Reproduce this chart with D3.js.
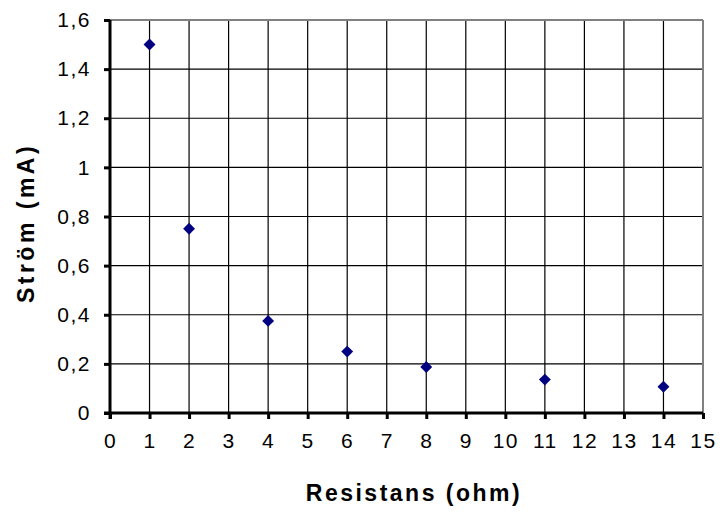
<!DOCTYPE html>
<html>
<head>
<meta charset="utf-8">
<script src="https://cdn.jsdelivr.net/npm/d3@7"></script>
<style>
  html, body { margin: 0; padding: 0; background: #fff; }
  svg { display: block; font-family: "Liberation Sans", Arial, sans-serif; }
</style>
</head>
<body>
<svg id="chart" width="720" height="513"></svg>
<script>
// Measured current versus resistance
const resistance = [1, 2, 4, 6, 8, 11, 14];
const current = [1.5, 0.75, 0.375, 0.25, 0.1875, 0.136, 0.107];
const xTicks = d3.range(0, 16, 1);
const yTicks = [0, 0.2, 0.4, 0.6, 0.8, 1, 1.2, 1.4, 1.6];
const xTitle = "Resistans (ohm)";
const yTitle = "Ström (mA)";

const svg = d3.select("#chart");
const plot = { left: 110, right: 703, top: 20, bottom: 413 };

const x = d3.scaleLinear().domain([0, 15]).range([plot.left, plot.right]);
const y = d3.scaleLinear().domain([0, 1.6]).range([plot.bottom, plot.top]);

const fmt = d => String(+d.toFixed(1)).replace(".", ",");

// Grid lines
const grid = svg.append("g");
grid.selectAll("line.v").data(xTicks.filter(d => d > 0 && d < 15)).join("line")
  .attr("class", "v")
  .attr("x1", d => x(d)).attr("x2", d => x(d))
  .attr("y1", plot.top).attr("y2", plot.bottom)
  .attr("stroke", "#000").attr("stroke-width", 1.2);
grid.selectAll("line.h").data(yTicks.filter(d => d > 0 && d < 1.6)).join("line")
  .attr("class", "h")
  .attr("x1", plot.left).attr("x2", plot.right)
  .attr("y1", d => y(d)).attr("y2", d => y(d))
  .attr("stroke", "#000").attr("stroke-width", 1.2);

// Plot frame: top and right in gray
svg.append("line").attr("x1", plot.left).attr("x2", plot.right).attr("y1", plot.top).attr("y2", plot.top)
  .attr("stroke", "#808080").attr("stroke-width", 2);
svg.append("line").attr("x1", plot.right).attr("x2", plot.right).attr("y1", plot.top).attr("y2", plot.bottom)
  .attr("stroke", "#808080").attr("stroke-width", 2);

// Axes
const xAxis = d3.axisBottom(x).tickValues(xTicks).tickSize(6).tickPadding(14).tickFormat(d => d);
const yAxis = d3.axisLeft(y).tickValues(yTicks).tickSize(6).tickPadding(13).tickFormat(fmt);

const gx = svg.append("g").attr("transform", `translate(0,${plot.bottom})`).call(xAxis);
const gy = svg.append("g").attr("transform", `translate(${plot.left},0)`).call(yAxis);

[gx, gy].forEach(g => {
  g.attr("font-size", 21).attr("font-family", "Liberation Sans, Arial, sans-serif");
  g.select(".domain").attr("stroke", "#000").attr("stroke-width", 3);
  g.selectAll(".tick line").attr("stroke", "#000").attr("stroke-width", 3);
  g.selectAll(".tick text").attr("fill", "#000")
    .attr("font-size", 21)
    .attr("letter-spacing", 1.5);
});
gx.select(".domain").attr("d", `M${plot.left - 6},0H${plot.right}`);
gy.select(".domain").attr("d", `M0,${plot.top}V${plot.bottom + 6}`);

// Data markers (diamonds)
const diamond = d3.symbol().type(d3.symbolDiamond2).size(90);
svg.append("g").selectAll("path").data(resistance.map((r, i) => [r, current[i]])).join("path")
  .attr("d", diamond)
  .attr("transform", d => `translate(${x(d[0])},${y(d[1])})`)
  .attr("fill", "#000080");

// Axis titles
svg.append("text")
  .attr("x", 414).attr("y", 501)
  .attr("text-anchor", "middle")
  .attr("font-size", 23).attr("font-weight", "bold")
  .attr("letter-spacing", 2.5)
  .text(xTitle);
svg.append("text")
  .attr("transform", `translate(34,223) rotate(-90)`)
  .attr("text-anchor", "middle")
  .attr("font-size", 23).attr("font-weight", "bold")
  .attr("letter-spacing", 3.5)
  .text(yTitle);
</script>
</body>
</html>
